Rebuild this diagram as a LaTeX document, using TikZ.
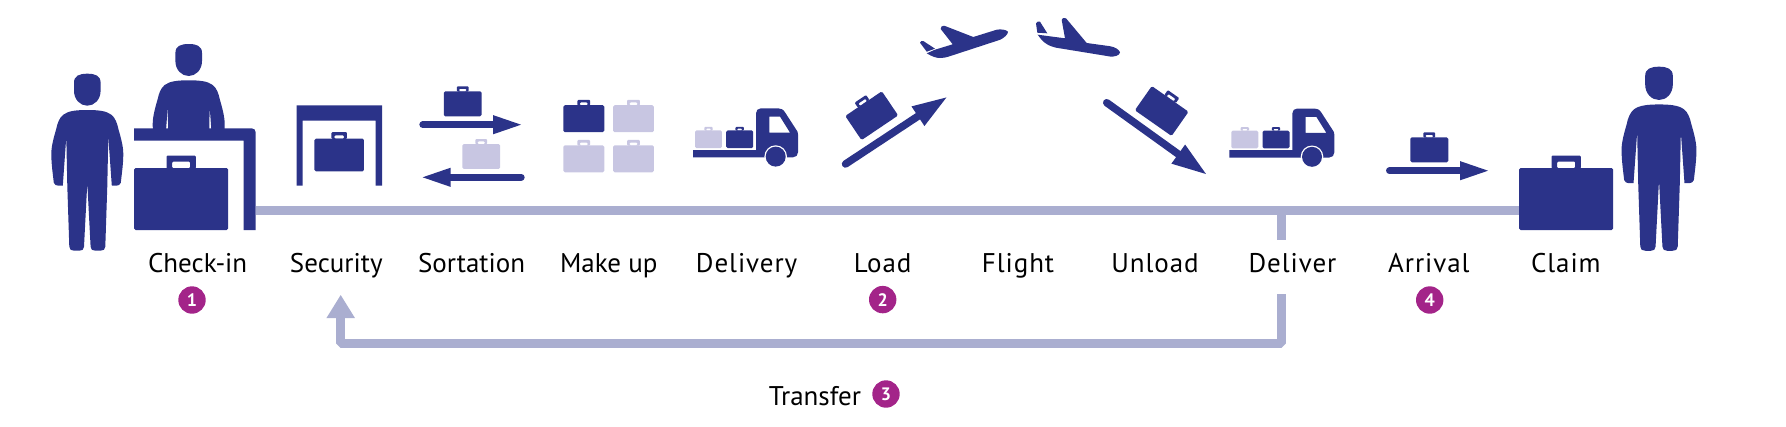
\documentclass[tikz,border=0pt]{standalone}
\usepackage{fontspec}
\setmainfont{PT Sans}
\usetikzlibrary{arrows.meta,calc}
\definecolor{navy}{RGB}{43,51,137}
\definecolor{pale}{RGB}{200,198,226}
\definecolor{barcol}{RGB}{170,174,208}
\definecolor{plum}{RGB}{163,36,137}

\begin{document}
\begin{tikzpicture}[
  x=1pt, y=-1pt,
  step label/.style={font=\fontsize{27}{30}\selectfont, anchor=base, inner sep=0pt},
  wide label/.style={step label, font=\fontsize{27}{30}\selectfont\addfontfeature{LetterSpace=3.5}},
  badge/.style={circle, fill=plum, text=white, minimum size=27.4pt, inner sep=0pt, font=\fontsize{18}{20}\selectfont\bfseries},
  bar/.style={barcol, line width=9pt},
  barr/.style={bar, line join=bevel, -{Triangle[length=23.3pt,width=26.7pt]}},
  belt/.style={navy, line width=7pt, line cap=round, -{Triangle[length=30.3pt,width=16.6pt]}},
  ramp/.style={navy, line width=7.5pt, line cap=round, -{Triangle[length=36pt,width=21pt]}},
  pics/bag/.style={code={
    \fill[pic actions, rounded corners=1.5pt] (-47,-31) rectangle (47,31);
    \fill[pic actions, even odd rule, rounded corners=1pt] (-14.7,-43.3) rectangle (14.7,-30.5) (-9,-37.3) rectangle (9,-31);
  }},
  pics/person/.style={code={
    \fill[navy] (-13.3,9) .. controls (-13.3,2) and (-8,0) .. (0,0) .. controls (8,0) and (13.3,2) .. (13.3,9) -- (13.3,17) .. controls (13.3,26) and (7,32) .. (0,32) .. controls (-7,32) and (-13.3,26) .. (-13.3,17) -- cycle;
    \fill[navy] (0,36.3) .. controls (10,36.3) and (19,37) .. (24,41) .. controls (28,44) and (30,50) .. (31,55) .. controls (33,62) and (36,72) .. (36,80) .. controls (36,90) and (34.5,100) .. (33.5,109) .. controls (33,111) and (31,112) .. (29,112) -- (24.5,112) -- (21,63) -- (20,112) -- (18,173) .. controls (18,176) and (16,177) .. (13,177) -- (8,177) .. controls (5,177) and (3.5,176) .. (3.3,173) -- (0,109)
      -- (-3.3,173) .. controls (-3.5,176) and (-5,177) .. (-8,177) -- (-13,177) .. controls (-16,177) and (-18,176) .. (-18,173) -- (-20,112) -- (-21,63) -- (-24.5,112) -- (-29,112) .. controls (-31,112) and (-33,111) .. (-33.5,109) .. controls (-34.5,100) and (-36,90) .. (-36,80) .. controls (-36,72) and (-33,62) .. (-31,55) .. controls (-30,50) and (-28,44) .. (-24,41) .. controls (-19,37) and (-10,36.3) .. (0,36.3) -- cycle;
  }},
  pics/truck/.style={code={
    \pic[fill=pale, scale=.287] at (15.5,-18) {bag};
    \pic[fill=navy, scale=.287] at (46.7,-18) {bag};
    \fill[navy, even odd rule] (0,0) -- (0,-7.3) -- (63,-7.3) -- (63,-44) .. controls (63,-47) and (65,-49) .. (68,-49) -- (85,-49) .. controls (88,-49) and (90,-48) .. (92,-45) -- (103,-28) .. controls (104.5,-26) and (105,-25) .. (105,-23) -- (105,-5) .. controls (105,-2) and (103,0) .. (100,0) -- cycle
      (76.3,-40.7) -- (87,-40.7) -- (97,-24.7) -- (76.3,-24.7) -- cycle;
    \fill[white] (82.7,-0.7) circle (11.3);
    \fill[navy] (82.7,-0.7) circle (10);
  }}
]
\useasboundingbox (0,0) rectangle (1786,426);

% check-in
\pic at (87.3,73.7) {person};
\begin{scope}
  \clip (130,30) rectangle (250,128.5);
  \pic at (188.7,44) {person};
\end{scope}
\fill[navy] (134,128.3) -- (251.7,128.3) .. controls (254,128.3) and (255.7,130) .. (255.7,132.3) -- (255.7,230) -- (243.7,230) -- (243.7,140.7) -- (134,140.7) -- cycle;
\pic[fill=navy] at (181.2,199) {bag};

% security
\fill[navy] (296.7,185.7) -- (296.7,105.3) -- (382,105.3) -- (382,185.7) -- (375.7,185.7) -- (375.7,120.7) -- (302.7,120.7) -- (302.7,185.7) -- cycle;
\pic[fill=navy, scale=.527] at (339.2,155) {bag};

% sortation
\coordinate (sortA) at (422.8,124.7);
\coordinate (sortB) at (523.5,124.7);
\coordinate (sortC) at (521.2,177.3);
\coordinate (sortD) at (420.2,177.3);
\draw[belt] (sortA) -- (sortB);
\draw[belt] (sortC) -- (sortD);
\pic[fill=navy, scale=.403] at (462.7,103.8) {bag};
\pic[fill=pale, scale=.403] at (481.3,156.5) {bag};

% make up
\pic[fill=navy, scale=.435] at (583.8,118.7) {bag};
\pic[fill=pale, scale=.435] at (633.5,118.7) {bag};
\pic[fill=pale, scale=.435] at (583.8,158.8) {bag};
\pic[fill=pale, scale=.435] at (633.5,158.8) {bag};

% delivery
\pic at (693,157.3) {truck};

% load
\coordinate (loadA) at (845.5,164);
\coordinate (loadB) at (948,96.4);
\draw[ramp] (loadA) -- (loadB);
\pic[fill=navy, scale=.47, rotate=34] at (871.7,115.7) {bag};

% flight
\fill[navy] (926.7,53.3) .. controls (932,56.5) and (936,58) .. (940,58) .. controls (943,58) and (946,57.5) .. (948.3,56.7) -- (1000,39.8) .. controls (1004,38) and (1008,34.5) .. (1008,31.7) .. controls (1006,29.5) and (1001,29) .. (996.7,29.7) -- (973.3,37) -- (945,26) .. controls (942,25.5) and (940,27) .. (940.7,29) -- (952.7,44.3) -- (935,49.7) -- cycle;
\fill[navy] (920,42.7) .. controls (920,41.5) and (922,40.5) .. (923.3,41) -- (935,48.7) -- (926.7,51.7) -- cycle;
\fill[navy] (1037.7,34.7) .. controls (1040,38) and (1043,42) .. (1046.7,44) .. controls (1049,45.7) and (1053,47) .. (1056.7,47.8) -- (1110,56.5) .. controls (1114,57) and (1120,55.5) .. (1120,52.3) .. controls (1119,49.5) and (1115,47) .. (1110,46.2) -- (1086.7,43) -- (1066,18.3) .. controls (1064,17.3) and (1061.5,18) .. (1061.7,20) -- (1065,38.3) -- cycle;
\fill[navy] (1036,23.3) .. controls (1036,22) and (1039,21) .. (1040,21.7) -- (1047.3,33.3) -- (1037.3,32.7) -- cycle;

% unload
\coordinate (unloadA) at (1106.7,102.7);
\coordinate (unloadB) at (1207.5,175.1);
\draw[ramp] (unloadA) -- (unloadB);
\pic[fill=navy, scale=.477, rotate=-35] at (1161.7,111) {bag};

% deliver
\pic at (1229.3,157.5) {truck};

% arrival
\coordinate (arrA) at (1389.5,170.7);
\coordinate (arrB) at (1490.5,170.7);
\draw[belt] (arrA) -- (arrB);
\pic[fill=navy, scale=.403] at (1429.3,149.8) {bag};

% claim
\pic[fill=navy] at (1566.2,199) {bag};
\pic[scale=1.04] at (1659,66.7) {person};

% main line and transfer
\coordinate (lineL) at (255.7,210);
\coordinate (lineR) at (1519,210);
\coordinate (stubT) at (1281.8,214);
\coordinate (stubB) at (1281.8,240);
\coordinate (backT) at (1281.8,294);
\coordinate (backR) at (1281.8,343.3);
\coordinate (backL) at (340.7,343.3);
\coordinate (backTip) at (340.7,294.7);
\draw[bar] (lineL) -- (lineR);
\draw[bar] (stubT) -- (stubB);
\draw[barr] (backT) -- (backR) -- (backL) -- (backTip);

% labels
\node[step label] (checkin) at (197.6,272.7) {Check-in};
\node[step label] (security) at (336.3,272.7) {Security};
\node[step label] (sortation) at (471.6,272.7) {Sortation};
\node[step label] (makeup) at (608.8,272.7) {Make up};
\node[wide label] (delivery) at (746.6,272.7) {Delivery};
\node[wide label] (load) at (882.7,272.7) {Load};
\node[wide label] (flight) at (1018,272.7) {Flight};
\node[wide label] (unload) at (1155,272.7) {Unload};
\node[wide label] (deliver) at (1292.5,272.7) {Deliver};
\node[wide label] (arrival) at (1428.8,272.7) {Arrival};
\node[wide label] (claim) at (1565.8,272.7) {Claim};
\node[step label] (transfer) at (815,405) {Transfer};

\node[badge] (b1) at (192,300) {1};
\node[badge] (b2) at (882.7,299.6) {2};
\node[badge] (b3) at (886,394) {3};
\node[badge] (b4) at (1429.7,300) {4};
\end{tikzpicture}
\end{document}
